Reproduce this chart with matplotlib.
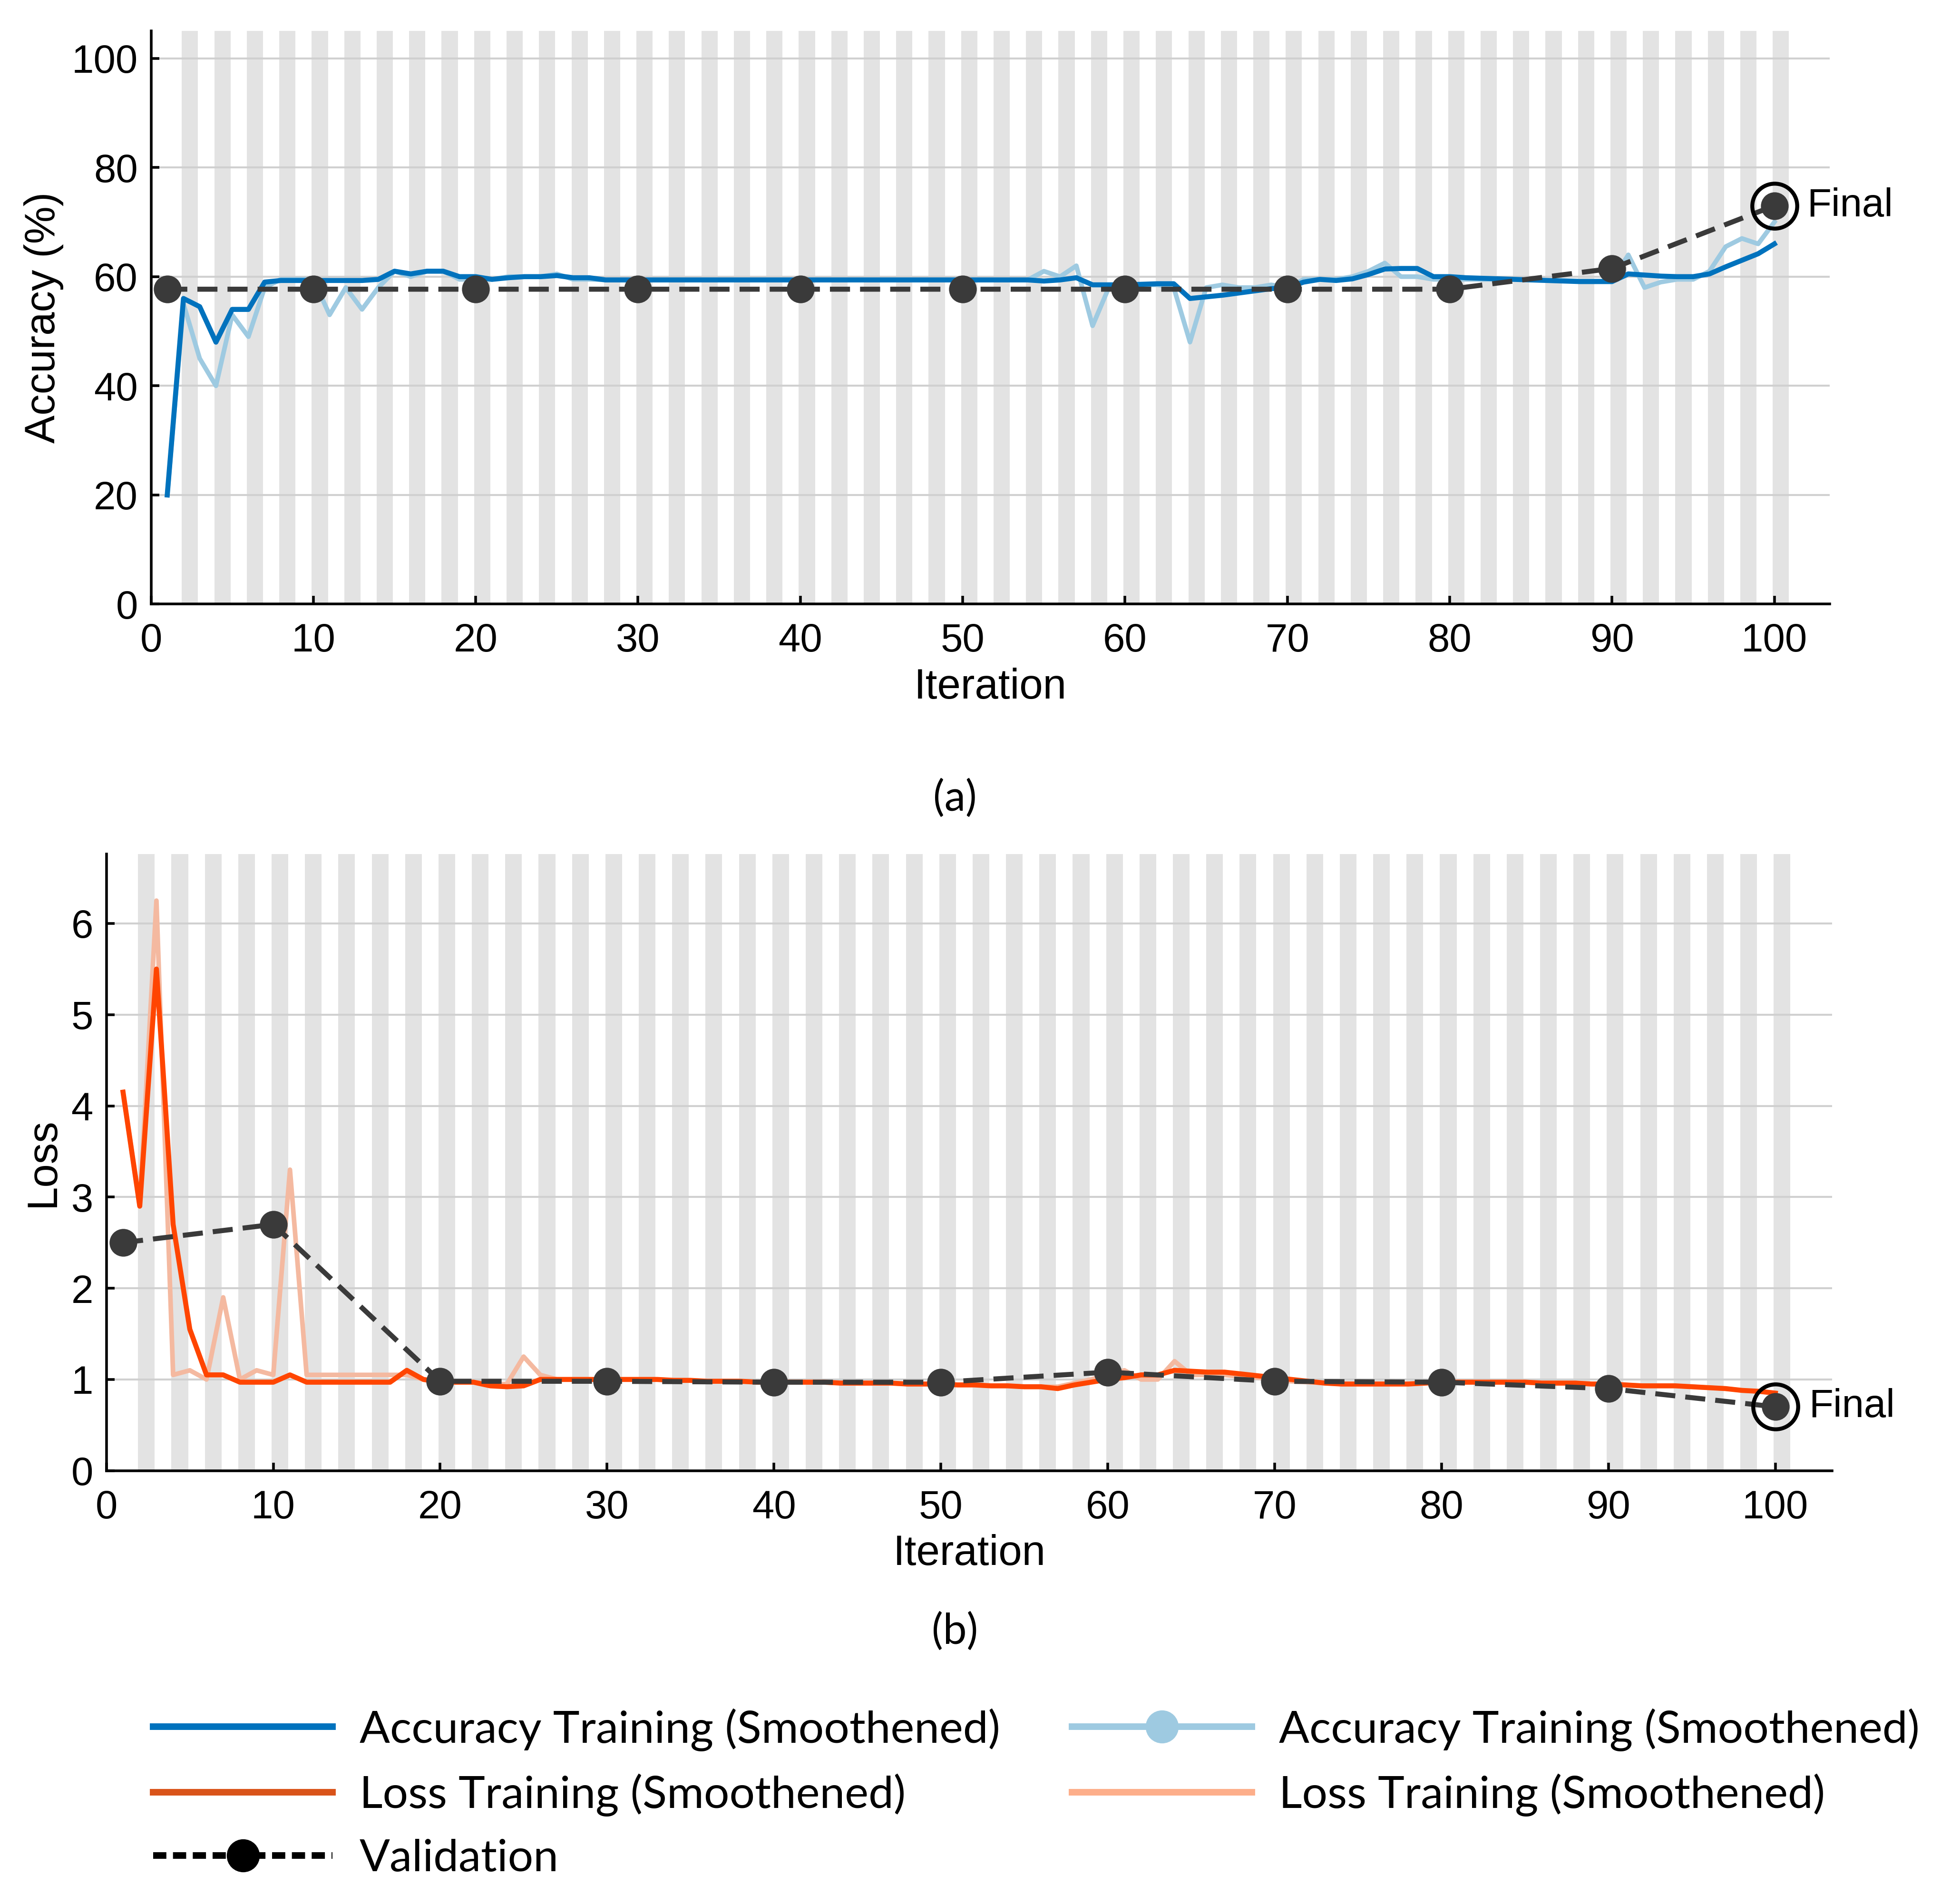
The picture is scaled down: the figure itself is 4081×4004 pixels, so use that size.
import numpy as np
import matplotlib.pyplot as plt
from matplotlib.lines import Line2D

iters = np.arange(1, 101)

acc_smooth = [20, 56, 54.5, 48, 54, 54, 59, 59.3, 59.3, 59.3,
              59.3, 59.3, 59.3, 59.5, 61, 60.5, 61, 61, 60, 60,
              59.5, 59.8, 60, 60, 60.2, 59.8, 59.8, 59.4, 59.4, 59.4,
              59.4, 59.4, 59.4, 59.4, 59.4, 59.4, 59.4, 59.4, 59.4, 59.4,
              59.4, 59.4, 59.4, 59.4, 59.4, 59.4, 59.4, 59.4, 59.4, 59.4,
              59.4, 59.4, 59.4, 59.4, 59.2, 59.4, 59.8, 58.5, 58.5, 58.5,
              58.6, 58.7, 58.7, 56, 56.3, 56.6, 57, 57.4, 57.8, 58,
              59, 59.5, 59.3, 59.6, 60.4, 61.4, 61.5, 61.5, 60, 60,
              59.8, 59.7, 59.6, 59.5, 59.4, 59.3, 59.2, 59.1, 59.1, 59.1,
              60.5, 60.3, 60.1, 60, 60, 60.5, 61.8, 63, 64.2, 66]
acc_raw = [20, 55, 45, 40, 53, 49, 58, 59.5, 59.5, 59.5,
           53, 58, 54, 58, 61, 60, 61, 61, 59.5, 59.5,
           59.5, 60, 60, 60, 60.5, 59.5, 59.5, 59.4, 59.4, 59.4,
           59.4, 59.4, 59.4, 59.4, 59.4, 59.4, 59.4, 59.4, 59.4, 59.4,
           59.4, 59.4, 59.4, 59.4, 59.4, 59.4, 59.4, 59.4, 59.4, 59.4,
           59.4, 59.4, 59.4, 59.4, 61, 60, 62, 51, 58, 58.5,
           58.5, 58.5, 58, 48, 58, 58.5, 58, 58, 58.5, 58,
           59.5, 59.5, 59.5, 60, 61, 62.5, 60, 60, 59.5, 59.5,
           59.5, 59.5, 59.5, 59.5, 59.4, 59.3, 59.3, 59.2, 59.2, 59.2,
           64, 58, 59, 59.5, 59.5, 61, 65.5, 67, 66, 70]
loss_smooth = [4.15, 2.9, 5.5, 2.7, 1.55, 1.05, 1.05, 0.97, 0.97, 0.97,
               1.05, 0.97, 0.97, 0.97, 0.97, 0.97, 0.97, 1.1, 1.0, 0.97,
               0.97, 0.97, 0.93, 0.92, 0.93, 1.0, 1.0, 1.0, 1.0, 1.0,
               1.0, 1.0, 1.0, 0.99, 0.99, 0.98, 0.98, 0.98, 0.97, 0.97,
               0.97, 0.97, 0.97, 0.96, 0.96, 0.96, 0.96, 0.95, 0.95, 0.95,
               0.94, 0.94, 0.93, 0.93, 0.92, 0.92, 0.9, 0.94, 0.97, 1.0,
               1.02, 1.05, 1.05, 1.1, 1.09, 1.08, 1.08, 1.06, 1.04, 1.02,
               1.0, 0.98, 0.96, 0.95, 0.95, 0.95, 0.95, 0.95, 0.96, 0.97,
               0.97, 0.97, 0.97, 0.97, 0.97, 0.96, 0.96, 0.96, 0.95, 0.95,
               0.94, 0.93, 0.93, 0.93, 0.92, 0.91, 0.9, 0.88, 0.87, 0.85]
loss_raw = [4.15, 2.9, 6.25, 1.05, 1.1, 1.0, 1.9, 1.0, 1.1, 1.05,
            3.3, 1.05, 1.05, 1.05, 1.05, 1.05, 1.05, 1.05, 1.0, 0.97,
            0.97, 0.97, 0.95, 0.95, 1.25, 1.05, 1.0, 1.0, 1.0, 1.0,
            1.0, 1.0, 1.0, 0.99, 0.99, 0.98, 0.98, 0.98, 0.97, 0.97,
            0.97, 0.97, 0.97, 0.96, 0.96, 0.96, 0.96, 0.95, 0.95, 0.95,
            0.94, 0.94, 0.93, 0.93, 0.92, 0.92, 0.92, 0.96, 1.0, 1.05,
            1.1, 1.0, 1.0, 1.2, 1.05, 1.05, 1.05, 1.03, 1.02, 1.0,
            0.98, 0.97, 0.96, 0.95, 0.95, 0.95, 0.95, 0.95, 0.96, 0.97,
            0.97, 0.97, 0.97, 0.97, 0.97, 0.96, 0.96, 0.96, 0.95, 0.95,
            0.94, 0.93, 0.93, 0.93, 0.92, 0.91, 0.9, 0.88, 0.87, 0.85]

val_iters = [1, 10, 20, 30, 40, 50, 60, 70, 80, 90, 100]
acc_val = [57.7, 57.7, 57.7, 57.7, 57.7, 57.7, 57.7, 57.7, 57.7, 61.5, 73]
loss_val = [2.5, 2.7, 0.98, 0.98, 0.97, 0.97, 1.08, 0.98, 0.97, 0.9, 0.7]

DARK_BLUE = '#0072bd'
LIGHT_BLUE = '#9ecae1'
DARK_ORANGE = '#ff4500'
LIGHT_ORANGE = '#f4b9a0'
VAL = '#3a3a3a'

plt.rcParams['font.family'] = 'Liberation Sans'
fig = plt.figure(figsize=(20.405, 20.02), dpi=200)

ax1 = fig.add_axes([0.0778, 0.6827, 0.8648, 0.3010])
ax2 = fig.add_axes([0.0548, 0.2276, 0.8891, 0.3238])


def style(ax, ylim, yticks):
    for k in range(50):
        ax.axvspan(2 * k + 1.9, 2 * k + 2.9, color='#e3e3e3', lw=0, zorder=0)
    ax.set_xlim(0, 103.4)
    ax.set_ylim(*ylim)
    ax.set_yticks(yticks)
    ax.set_xticks(range(0, 101, 10))
    ax.yaxis.grid(True, color='#d0d0d0', lw=1.5, zorder=0.5)
    ax.set_axisbelow(True)
    for s in ['top', 'right']:
        ax.spines[s].set_visible(False)
    for s in ['left', 'bottom']:
        ax.spines[s].set_linewidth(2)
    ax.tick_params(labelsize=30, width=2, length=6, direction='in')
    ax.tick_params(axis='x', pad=14)
    ax.tick_params(axis='y', pad=10)
    ax.set_xlabel('Iteration', fontsize=32, labelpad=6)


style(ax1, (0, 105), range(0, 101, 20))
ax1.plot(iters, acc_raw, color=LIGHT_BLUE, lw=3.5, zorder=2)
ax1.plot(iters, acc_smooth, color=DARK_BLUE, lw=3.8, zorder=3)
ax1.plot(val_iters, acc_val, '--', color=VAL, lw=3.8, dashes=(4, 2),
         marker='o', markersize=20, zorder=4)
ax1.plot(100, acc_val[-1], 'o', ms=34, mfc='none', mec='black', mew=3, zorder=5)
ax1.text(102, acc_val[-1], 'Final', fontsize=30, va='center')
ax1.set_ylabel('Accuracy (%)', fontsize=32, labelpad=6)

style(ax2, (0, 6.76), range(0, 7))
ax2.plot(iters, loss_raw, color=LIGHT_ORANGE, lw=3.5, zorder=2)
ax2.plot(iters, loss_smooth, color=DARK_ORANGE, lw=3.8, zorder=3)
ax2.plot(val_iters, loss_val, '--', color=VAL, lw=3.8, dashes=(4, 2),
         marker='o', markersize=20, zorder=4)
ax2.plot(100, loss_val[-1], 'o', ms=34, mfc='none', mec='black', mew=3, zorder=5)
ax2.text(102, loss_val[-1], 'Final', fontsize=30, va='center')
ax2.set_ylabel('Loss', fontsize=32, labelpad=6)

fig.text(0.492, 0.5806, '(a)', fontsize=32, ha='center', va='center', family='Lato')
fig.text(0.492, 0.143, '(b)', fontsize=32, ha='center', va='center', family='Lato')

handles = [
    Line2D([], [], color=DARK_BLUE, lw=5),
    Line2D([], [], color='#d95319', lw=5),
    Line2D([], [], color='black', lw=5, ls='--', dashes=(2, 1), marker='o', ms=24),
    Line2D([], [], color=LIGHT_BLUE, lw=5, marker='o', ms=24),
    Line2D([], [], color='#fdae8a', lw=5),
]
labels = ['Accuracy Training (Smoothened)', 'Loss Training (Smoothened)', 'Validation',
          'Accuracy Training (Smoothened)', 'Loss Training (Smoothened)']
fig.legend(handles, labels, ncol=2, loc='center left', bbox_to_anchor=(0.058, 0.058),
           frameon=False, prop={'family': 'Lato', 'size': 34}, handlelength=4.0,
           handletextpad=0.6, columnspacing=1.6, labelspacing=0.5)

fig.savefig('out.png', dpi=200, facecolor='white')
